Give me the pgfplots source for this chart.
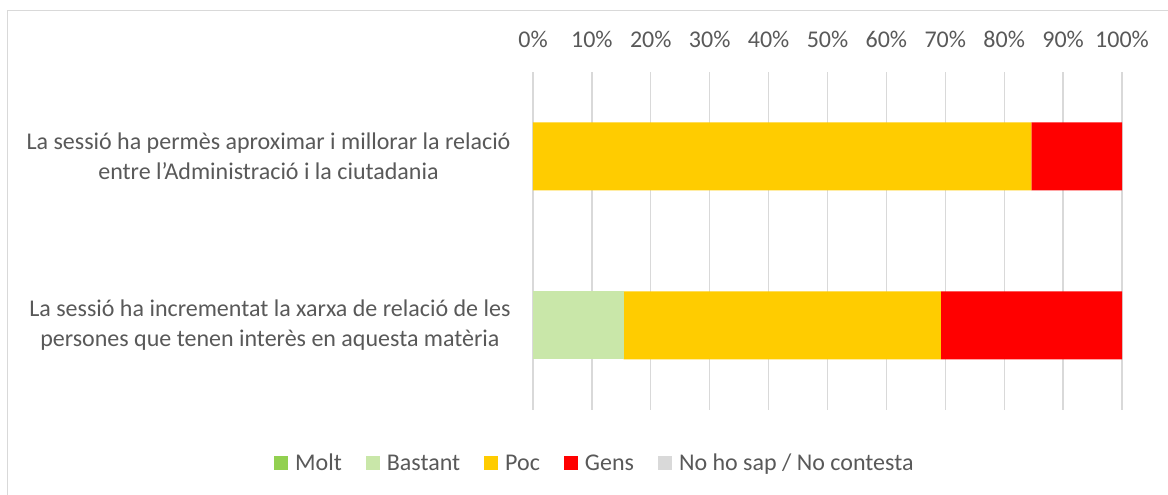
\documentclass[border=0pt]{standalone}
\usepackage{pgfplots}
\pgfplotsset{compat=1.18}
\usepackage{fontspec}
\setmainfont{Carlito}
\definecolor{txt}{HTML}{595959}
\definecolor{grd}{HTML}{D9D9D9}
\definecolor{molt}{HTML}{92D050}
\definecolor{bastant}{HTML}{C9E7A9}
\definecolor{poc}{HTML}{FFCC00}
\definecolor{gens}{HTML}{FF0000}
\definecolor{nsnc}{HTML}{D9D9D9}
\begin{document}
\begin{tikzpicture}[x=1pt,y=1pt]
\useasboundingbox (0,0) rectangle (1168,495);
\fill[white] (0,0) rectangle (1168,495);
\draw[grd, line width=1.3pt] (7.5,0) -- (7.5,484.5) -- (1168,484.5);
\begin{axis}[
  at={(533pt,85pt)}, anchor=south west,
  scale only axis, width=589pt, height=338pt,
  xbar stacked, bar width=68pt,
  xmin=0, xmax=100, ymin=-0.5, ymax=1.5,
  xtick={0,10,...,100},
  xticklabels={0\%,10\%,20\%,30\%,40\%,50\%,60\%,70\%,80\%,90\%,100\%},
  xticklabel pos=upper,
  xticklabel style={anchor=base, yshift=24pt},
  ytick={0,1},
  yticklabels={{La sessió ha incrementat la xarxa de relació de les\\persones que tenen interès en aquesta matèria},
               {La sessió ha permès aproximar i millorar la relació\\entre l’Administració i la ciutadania}},
  yticklabel style={align=center, anchor=east, xshift=-19pt},
  tick label style={font=\fontsize{24pt}{30pt}\selectfont, text=txt},
  axis line style={draw=none},
  major tick length=0pt,
  xmajorgrids, grid style={grd, line width=1.3pt},
  legend style={draw=none, at={(0.105,-0.157)}, anchor=center,
    font=\fontsize{24pt}{28pt}\selectfont, text=txt,
    legend columns=-1,
    /tikz/every odd column/.append style={column sep=5pt},
    /tikz/every even column/.append style={column sep=22pt}},
  legend image code/.code={\fill[#1] (0pt,-7pt) rectangle (14pt,7pt);},
  clip=false,
]
\addplot[fill=molt, draw=none] coordinates {(0,0) (0,1)};
\addplot[fill=bastant, draw=none] coordinates {(15.38,0) (0,1)};
\addplot[fill=poc, draw=none] coordinates {(53.85,0) (84.62,1)};
\addplot[fill=gens, draw=none] coordinates {(30.77,0) (15.38,1)};
\addplot[fill=nsnc, draw=none] coordinates {(0,0) (0,1)};
\legend{Molt, Bastant, Poc, Gens, No ho sap / No contesta}
\end{axis}
\end{tikzpicture}
\end{document}
